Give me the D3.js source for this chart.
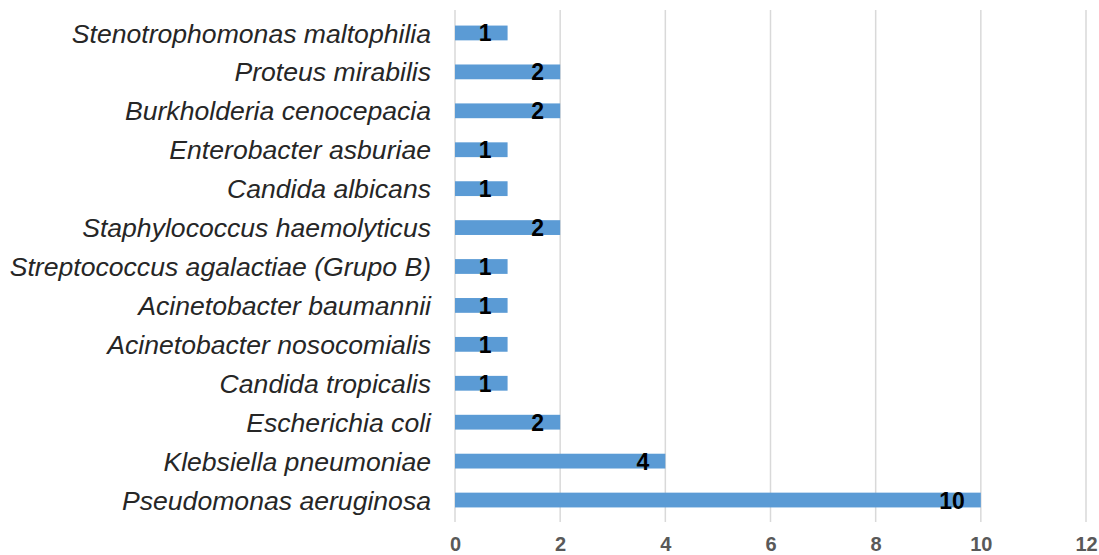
<!DOCTYPE html>
<html>
<head>
<meta charset="utf-8">
<script src="https://cdn.jsdelivr.net/npm/d3@7"></script>
<style>
  html, body { margin: 0; padding: 0; background: #fff; }
  svg { display: block; }
</style>
</head>
<body>
<svg id="chart" width="1099" height="555"></svg>
<script>
// Organisms, listed top to bottom
const organisms = [
  "Stenotrophomonas maltophilia",
  "Proteus mirabilis",
  "Burkholderia cenocepacia",
  "Enterobacter asburiae",
  "Candida albicans",
  "Staphylococcus haemolyticus",
  "Streptococcus agalactiae (Grupo B)",
  "Acinetobacter baumannii",
  "Acinetobacter nosocomialis",
  "Candida tropicalis",
  "Escherichia coli",
  "Klebsiella pneumoniae",
  "Pseudomonas aeruginosa"
];
const counts = [1, 2, 2, 1, 1, 2, 1, 1, 1, 1, 2, 4, 10];
const xTicks = [0, 2, 4, 6, 8, 10, 12];

const svg = d3.select("#chart");
const plot = { left: 455, right: 1086, top: 13.5, bottom: 519.5 };

const x = d3.scaleLinear().domain([0, 12]).range([plot.left, plot.right]);
const y = d3.scaleBand().domain(organisms).range([plot.top, plot.bottom]).paddingInner(0.62).paddingOuter(0.31);

// vertical gridlines
svg.append("g")
  .selectAll("line")
  .data(xTicks)
  .join("line")
  .attr("x1", d => x(d)).attr("x2", d => x(d))
  .attr("y1", 10).attr("y2", 522)
  .attr("stroke", "#d9d9d9")
  .attr("stroke-width", 1.5);

// x axis tick labels
const xAxis = d3.axisBottom(x).tickValues(xTicks).tickSize(0).tickPadding(0);
const gx = svg.append("g").attr("transform", "translate(0,537)").call(xAxis);
gx.select(".domain").remove();
gx.selectAll("text")
  .attr("dy", "0.71em")
  .attr("fill", "#595959")
  .style("font-family", "'Liberation Sans', Arial, sans-serif")
  .style("font-weight", "bold")
  .style("font-size", "20px");

// category labels
const yAxis = d3.axisLeft(y).tickSize(0).tickPadding(0);
const gy = svg.append("g").attr("transform", "translate(431,0)").call(yAxis);
gy.select(".domain").remove();
gy.selectAll("text")
  .attr("dy", "0.36em")
  .attr("fill", "#262626")
  .style("font-family", "'Liberation Sans', Arial, sans-serif")
  .style("font-style", "italic")
  .style("font-size", "26.6px");

// bars
svg.append("g")
  .selectAll("rect")
  .data(organisms)
  .join("rect")
  .attr("x", x(0))
  .attr("y", d => y(d))
  .attr("width", (d, i) => x(counts[i]) - x(0))
  .attr("height", y.bandwidth())
  .attr("fill", "#5b9bd5");

// value labels
svg.append("g")
  .selectAll("text")
  .data(organisms)
  .join("text")
  .attr("x", (d, i) => x(counts[i]) - 16)
  .attr("y", d => y(d) + y.bandwidth() / 2 + 8.5)
  .attr("text-anchor", "end")
  .attr("fill", "#000")
  .style("font-family", "'Liberation Sans', Arial, sans-serif")
  .style("font-weight", "bold")
  .style("font-size", "23px")
  .text((d, i) => counts[i]);
</script>
</body>
</html>
